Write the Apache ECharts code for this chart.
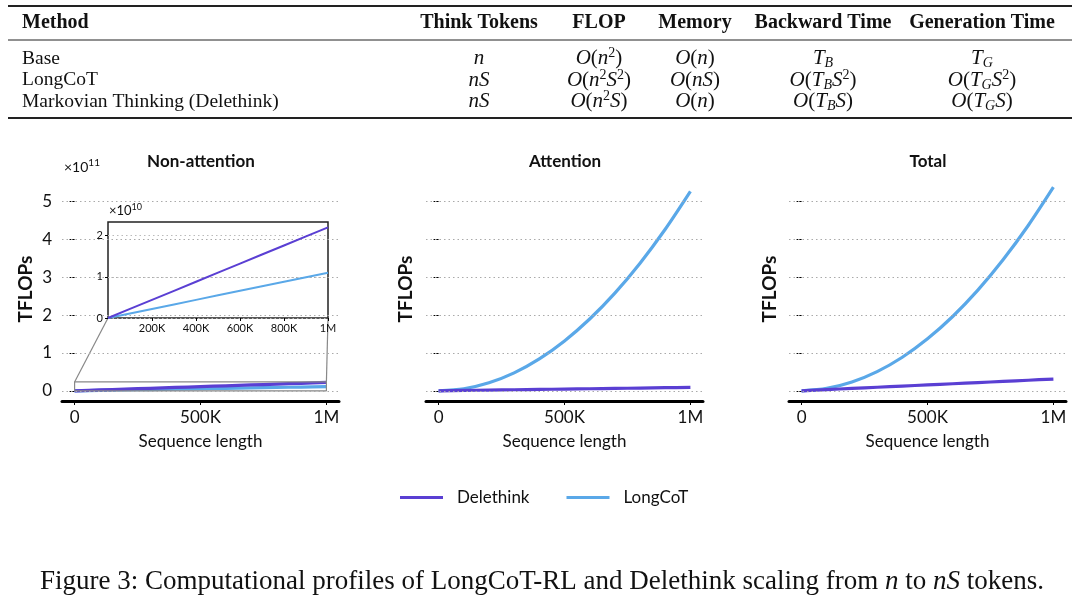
<!DOCTYPE html>
<html>
<head>
<meta charset="utf-8">
<script src="https://cdn.jsdelivr.net/npm/echarts@6/dist/echarts.min.js"></script>
<style>
html,body{margin:0;padding:0;background:#fff;}
#c{width:1080px;height:606px;}
</style>
</head>
<body>
<div id="c"></div>
<script>
// ---------- data (TFLOPs, in units of 1e11) ----------
const seqLen = [0, 100000, 200000, 300000, 400000, 500000, 600000, 700000, 800000, 900000, 1000000];
const delethinkNonAttn = [0, 0.022, 0.044, 0.066, 0.088, 0.110, 0.132, 0.154, 0.176, 0.198, 0.220];
const longcotNonAttn   = [0, 0.011, 0.022, 0.033, 0.044, 0.055, 0.066, 0.077, 0.088, 0.099, 0.110];
const delethinkAttn    = [0, 0.009, 0.018, 0.027, 0.036, 0.045, 0.054, 0.063, 0.072, 0.081, 0.090];
const longcotAttn      = [0, 0.053, 0.211, 0.474, 0.843, 1.318, 1.897, 2.582, 3.373, 4.269, 5.270];
const delethinkTotal   = [0, 0.031, 0.062, 0.093, 0.124, 0.155, 0.186, 0.217, 0.248, 0.279, 0.310];
const longcotTotal     = [0, 0.064, 0.233, 0.507, 0.887, 1.373, 1.963, 2.659, 3.461, 4.368, 5.380];

const panelTitles = ['Non-attention', 'Attention', 'Total'];
const xTickValues = [0, 500000, 1000000];
const yTickValues = [0, 1, 2, 3, 4, 5];
const insetXTicks = [200000, 400000, 600000, 800000, 1000000];
const insetYTicks = [0, 0.1, 0.2];
const insetXMax = 1000000;
const insetYMax = 0.233;

const tableHeader = ['Method', 'Think Tokens', 'FLOP', 'Memory', 'Backward Time', 'Generation Time'];
const tableMethods = ['Base', 'LongCoT', 'Markovian Thinking (Delethink)'];
const tableThink = ['{i|n}', '{i|nS}', '{i|nS}'];
const tableFlop = ['{i|O}{r|(}{i|n}{sup|2}{r|)}', '{i|O}{r|(}{i|n}{sup|2}{i|S}{sup|2}{r|)}', '{i|O}{r|(}{i|n}{sup|2}{i|S}{r|)}'];
const tableMemory = ['{i|O}{r|(}{i|n}{r|)}', '{i|O}{r|(}{i|nS}{r|)}', '{i|O}{r|(}{i|n}{r|)}'];
const tableBackward = ['{i|T}{sub|B}', '{i|O}{r|(}{i|T}{sub|B}{i|S}{sup|2}{r|)}', '{i|O}{r|(}{i|T}{sub|B}{i|S}{r|)}'];
const tableGeneration = ['{i|T}{sub|G}', '{i|O}{r|(}{i|T}{sub|G}{i|S}{sup|2}{r|)}', '{i|O}{r|(}{i|T}{sub|G}{i|S}{r|)}'];
const caption = '{r|Figure 3: Computational profiles of LongCoT-RL and Delethink scaling from }{i|n}{r| to }{i|nS}{r| tokens.}';

// ---------- styles ----------
const SANS = 'Lato, "Noto Sans", sans-serif';
const SERIF = '"Liberation Serif", "DejaVu Serif", serif';
const C_DEL = '#5a3fd3';
const C_LONG = '#5aa8e8';

const chart = echarts.init(document.getElementById('c'), null, {renderer: 'canvas'});

function kFmt(v) {
  if (v === 0) return '0';
  if (v >= 1000000) return (v / 1000000) + 'M';
  return (v / 1000) + 'K';
}
function pairs(ys) { return seqLen.map((x, i) => [x, ys[i]]); }

const mainGrids = [
  {left: 62, top: 177, width: 277, height: 224},
  {left: 426, top: 177, width: 277, height: 224},
  {left: 789, top: 177, width: 277, height: 224}
];
const grids = mainGrids.concat([{left: 108, top: 222, width: 220, height: 96, show: true,
  backgroundColor: '#fff', borderColor: '#222', borderWidth: 1.5, z: 5}]);

const nameGaps = [27, 11, 10];
const xAxes = [], yAxes = [];
for (let g = 0; g < 3; g++) {
  xAxes.push({
    type: 'value', gridIndex: g, min: -50000, max: 1050000,
    axisLine: {show: true, onZero: false, lineStyle: {color: '#000', width: 3}},
    axisTick: {show: true, customValues: xTickValues, length: 4, lineStyle: {color: '#000', width: 1}},
    axisLabel: {customValues: xTickValues, formatter: kFmt, fontSize: 17, fontFamily: SANS, color: '#111', margin: 8},
    splitLine: {show: false},
    name: 'Sequence length', nameLocation: 'middle', nameGap: 32,
    nameTextStyle: {fontSize: 17, fontFamily: SANS, color: '#111'}
  });
  yAxes.push({
    type: 'value', gridIndex: g, min: -0.27, max: 5.65,
    axisLine: {show: false},
    axisTick: {show: true, customValues: yTickValues, length: 5, lineStyle: {color: '#000', width: 1}},
    axisLabel: {show: g === 0, customValues: yTickValues, fontSize: 17, fontFamily: SANS, color: '#111', margin: 10},
    splitLine: {show: false},
    name: 'TFLOPs', nameLocation: 'middle', nameGap: nameGaps[g],
    nameTextStyle: {fontSize: 19, fontWeight: 'bold', fontFamily: SANS, color: '#111'}
  });
}
// inset axes
xAxes.push({
  type: 'value', gridIndex: 3, min: 0, max: insetXMax, z: 6,
  axisLine: {show: false},
  axisTick: {show: true, customValues: insetXTicks, length: 3, lineStyle: {color: '#000'}},
  axisLabel: {customValues: insetXTicks, formatter: kFmt, fontSize: 11, fontFamily: SANS, color: '#111', margin: 5},
  splitLine: {show: false}
});
yAxes.push({
  type: 'value', gridIndex: 3, min: 0, max: insetYMax, z: 6,
  axisLine: {show: false},
  axisTick: {show: true, customValues: insetYTicks, length: 3, lineStyle: {color: '#000'}},
  axisLabel: {customValues: insetYTicks, formatter: v => String(Math.round(v * 10)), fontSize: 11, fontFamily: SANS, color: '#111', margin: 5},
  splitLine: {show: false}
});

const gridLineMark = {
  silent: true, symbol: 'none', label: {show: false},
  lineStyle: {type: [1.5, 3], color: '#aaa', width: 1},
  emphasis: {disabled: true},
  data: yTickValues.map(v => ({yAxis: v}))
};
const insetGridMark = {
  silent: true, symbol: 'none', label: {show: false},
  lineStyle: {type: [1.5, 3], color: '#bbb', width: 1},
  emphasis: {disabled: true},
  data: insetYTicks.map(v => ({yAxis: v}))
};

function lineSeries(name, data, color, g, extra) {
  return Object.assign({
    type: 'line', name: name, xAxisIndex: g, yAxisIndex: g, data: pairs(data),
    showSymbol: false, symbol: 'none', smooth: 0.3, z: 2,
    lineStyle: {color: color, width: 3.2}, itemStyle: {color: color},
    emphasis: {disabled: true}, animation: false
  }, extra || {});
}

const panelData = [
  [longcotNonAttn, delethinkNonAttn],
  [longcotAttn, delethinkAttn],
  [longcotTotal, delethinkTotal]
];
const series = [];
for (let g = 0; g < 3; g++) {
  series.push(lineSeries('LongCoT', panelData[g][0], C_LONG, g, {markLine: gridLineMark}));
  series.push(lineSeries('Delethink', panelData[g][1], C_DEL, g));
}
// zoom rectangle in non-attention panel (derived from inset limits)
series.push({
  type: 'line', xAxisIndex: 0, yAxisIndex: 0, z: 3, showSymbol: false, symbol: 'none', animation: false,
  lineStyle: {color: '#888', width: 1.2}, silent: true,
  data: [[0, 0], [insetXMax, 0], [insetXMax, insetYMax], [0, insetYMax], [0, 0]]
});
// inset series
series.push(lineSeries('LongCoT', longcotNonAttn, C_LONG, 3, {z: 7, smooth: false, lineStyle: {color: C_LONG, width: 2}, markLine: insetGridMark}));
series.push(lineSeries('Delethink', delethinkNonAttn, C_DEL, 3, {z: 7, smooth: false, lineStyle: {color: C_DEL, width: 2}}));

chart.setOption({
  animation: false,
  backgroundColor: '#fff',
  grid: grids,
  xAxis: xAxes,
  yAxis: yAxes,
  legend: {
    data: ['Delethink', 'LongCoT'], left: 395, top: 484,
    icon: 'rect', itemWidth: 43, itemHeight: 3, itemGap: 37,
    textStyle: {fontSize: 17, fontFamily: SANS, color: '#111', padding: [0, 0, 0, 9]}
  },
  series: series
});

// ---------- graphics: table, titles, exponents, caption, connectors ----------
const mathRich = {
  i: {fontFamily: SERIF, fontStyle: 'italic', fontSize: 21, lineHeight: 24, fill: '#111'},
  r: {fontFamily: SERIF, fontSize: 21, lineHeight: 24, fill: '#111'},
  sup: {fontFamily: SERIF, fontSize: 14, lineHeight: 24, verticalAlign: 'top', padding: [0, 0, 12, 0], fill: '#111'},
  sub: {fontFamily: SERIF, fontStyle: 'italic', fontSize: 14, lineHeight: 24, verticalAlign: 'bottom', padding: [9, 0, 0, 0], fill: '#111'}
};
const els = [];
function txt(x, y, text, opt) {
  els.push({type: 'text', x: x, y: y, z: 100, silent: true,
    style: Object.assign({text: text, fill: '#111', textAlign: 'left', textVerticalAlign: 'middle'}, opt || {})});
}
function rule(y, w) {
  els.push({type: 'line', silent: true, z: 100, shape: {x1: 8, y1: y, x2: 1072, y2: y}, style: {stroke: '#222', lineWidth: w}});
}
rule(6, 2); rule(40, 1); rule(118, 2);
const colCenters = [479, 599, 695, 823, 982];
txt(22, 22.5, tableHeader[0], {font: 'bold 20px ' + SERIF});
for (let c = 1; c < tableHeader.length; c++) {
  txt(colCenters[c - 1], 22.5, tableHeader[c], {font: 'bold 20px ' + SERIF, textAlign: 'center'});
}
const rowY = [58.5, 80, 101.5];
const cols = [tableThink, tableFlop, tableMemory, tableBackward, tableGeneration];
for (let r = 0; r < 3; r++) {
  txt(22, rowY[r], tableMethods[r], {font: '19.5px ' + SERIF});
  for (let c = 0; c < cols.length; c++) {
    txt(colCenters[c], rowY[r], cols[c][r], {textAlign: 'center', rich: mathRich});
  }
}
// panel titles
const titleX = [201, 565, 928];
for (let g = 0; g < 3; g++) {
  txt(titleX[g], 162, panelTitles[g], {font: 'bold 17px ' + SANS, textAlign: 'center'});
}
const expRich = (fs) => ({
  r: {fontFamily: SANS, fontSize: fs, lineHeight: fs + 4, fill: '#111'},
  s: {fontFamily: SANS, fontSize: fs - 4, lineHeight: fs + 4, verticalAlign: 'top', padding: [0, 0, 6, 0], fill: '#111'}
});
txt(64, 167, '{r|×10}{s|11}', {rich: expRich(14)});
txt(109, 211, '{r|×10}{s|10}', {rich: expRich(13)});
// caption
txt(542, 582, caption, {textAlign: 'center', rich: {
  r: {fontFamily: SERIF, fontSize: 27, lineHeight: 32, fill: '#111'},
  i: {fontFamily: SERIF, fontStyle: 'italic', fontSize: 27, lineHeight: 32, fill: '#111'}
}});
// connector lines between zoom rectangle and inset
const a1 = chart.convertToPixel({gridIndex: 0}, [0, insetYMax]);
const a2 = chart.convertToPixel({gridIndex: 0}, [insetXMax, insetYMax]);
const b1 = chart.convertToPixel({gridIndex: 3}, [0, 0]);
const b2 = chart.convertToPixel({gridIndex: 3}, [insetXMax, 0]);
[[a1, b1], [a2, b2]].forEach(p => {
  els.push({type: 'line', silent: true, z: 4, shape: {x1: p[0][0], y1: p[0][1], x2: p[1][0], y2: p[1][1]},
    style: {stroke: '#888', lineWidth: 1.2}});
});
chart.setOption({graphic: {elements: els}});
</script>
</body>
</html>
